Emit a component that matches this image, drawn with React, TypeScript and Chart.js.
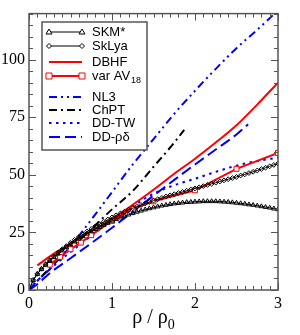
import { useEffect, useRef } from "react";
import { Chart, registerables } from "chart.js";
Chart.register(...registerables);

// ---------- data ----------
const xTicks = [0, 1, 2, 3];
const yTicks = [0, 25, 50, 75, 100];

const skyrmeRho = [
  0, 0.05, 0.1, 0.15, 0.2, 0.25, 0.3, 0.35, 0.4, 0.45, 0.5, 0.55, 0.6, 0.65, 0.7, 0.75, 0.8, 0.85, 0.9, 0.95,
  1.0, 1.05, 1.1, 1.15, 1.2, 1.25, 1.3, 1.35, 1.4, 1.45, 1.5, 1.55, 1.6, 1.65, 1.7, 1.75, 1.8, 1.85, 1.9, 1.95,
  2.0, 2.05, 2.1, 2.15, 2.2, 2.25, 2.3, 2.35, 2.4, 2.45, 2.5, 2.55, 2.6, 2.65, 2.7, 2.75, 2.8, 2.85, 2.9, 2.95, 3.0,
];
const skmStar = [
  0, 4.2, 6.9, 9.0, 10.9, 12.6, 14.2, 15.7, 17.1, 18.5, 19.8, 21.0, 22.2, 23.3, 24.4, 25.4, 26.4, 27.3, 28.2, 29.1,
  30.0, 30.7, 31.4, 32.1, 32.7, 33.3, 33.9, 34.4, 34.9, 35.4, 35.8, 36.2, 36.6, 36.9, 37.2, 37.5, 37.7, 37.9, 38.1, 38.2,
  38.3, 38.4, 38.5, 38.5, 38.5, 38.5, 38.4, 38.3, 38.2, 38.0, 37.8, 37.6, 37.4, 37.1, 36.9, 36.6, 36.3, 36.0, 35.7, 35.3, 35.0,
];
const skLya = [
  0, 4.3, 7.0, 9.2, 11.2, 13.0, 14.6, 16.2, 17.7, 19.1, 20.5, 21.8, 23.0, 24.2, 25.4, 26.5, 27.6, 28.6, 29.6, 30.6,
  31.5, 32.4, 33.2, 34.0, 34.8, 35.5, 36.2, 36.9, 37.6, 38.2, 38.8, 39.4, 40.0, 40.6, 41.1, 41.6, 42.1, 42.6, 43.1, 43.6,
  44.1, 44.6, 45.1, 45.6, 46.1, 46.6, 47.1, 47.6, 48.1, 48.6, 49.1, 49.7, 50.2, 50.8, 51.3, 51.9, 52.5, 53.1, 53.7, 54.3, 54.9,
];

const dbhfRho = [0.1, 0.2, 0.3, 0.4, 0.5, 0.6, 0.7, 0.8, 0.9, 1.0, 1.25, 1.5, 1.75, 2.0, 2.25, 2.5, 2.75, 3.0];
const dbhf = [10.7, 13.3, 15.8, 18.0, 20.2, 22.4, 24.6, 26.6, 28.6, 30.8, 37.0, 43.5, 50.5, 57.0, 64.0, 71.5, 80.5, 90.0];

const av18Rho = [0.25, 0.375, 0.5, 0.625, 0.75, 1.0, 1.25, 1.5, 2.0, 2.5, 3.0];
const av18 = [11.0, 14.4, 17.7, 20.6, 23.8, 30.0, 35.3, 38.5, 43.3, 52.6, 59.5];

const nl3Rho = [0, 0.1, 0.25, 0.5, 0.75, 1.0, 1.25, 1.5, 1.75, 2.0, 2.25, 2.5, 2.75, 2.96];
const nl3 = [0, 4, 9, 19, 30.5, 42.5, 54.5, 65.5, 76.5, 86.5, 96, 105, 113, 120];

const chptRho = [0, 0.25, 0.5, 0.75, 1.0, 1.25, 1.5, 1.75, 1.87];
const chpt = [0, 9.5, 18, 26.5, 35, 43, 53.5, 64, 69.5];

const ddtwRho = [0, 0.1, 0.25, 0.5, 0.75, 1.0, 1.25, 1.5, 1.75, 2.0, 2.25, 2.5, 2.75, 3.0];
const ddtw = [0, 4, 9, 16.5, 23.5, 30.5, 36.5, 41.8, 45.5, 48.3, 51.3, 54, 56, 57.5];

const ddrdRho = [0, 0.1, 0.25, 0.5, 0.75, 1.0, 1.25, 1.5, 1.75, 2.0, 2.25, 2.5, 2.64];
const ddrd = [0, 2.5, 7.3, 13.8, 20.3, 27, 34, 41, 47.8, 54.5, 61, 67.5, 72];

// ---------- styles ----------
const RED = "#ff0000";
const BLUE = "#0000ff";
const FRAME = "#555555";
const DASH_NL3 = [8, 4, 2, 4, 2, 4];
const DASH_CHPT = [8, 4, 2, 4];
const DASH_TW = [2.5, 4.5];
const DASH_RD = [11, 5];

const pts = (xs: number[], ys: number[]) => xs.map((x, i) => ({ x, y: ys[i] }));

type LegendItem = {
  label: string;
  sub?: string;
  color: string;
  width: number;
  dash: number[];
  marker?: "triangle" | "diamond" | "square";
};
const legendItems: LegendItem[] = [
  { label: "SKM*", color: "#000", width: 1, dash: [], marker: "triangle" },
  { label: "SkLya", color: "#000", width: 1, dash: [], marker: "diamond" },
  { label: "DBHF", color: RED, width: 2, dash: [] },
  { label: "var AV", sub: "18", color: RED, width: 2, dash: [], marker: "square" },
  { label: "NL3", color: BLUE, width: 2, dash: DASH_NL3 },
  { label: "ChPT", color: "#000", width: 2, dash: DASH_CHPT },
  { label: "DD-TW", color: BLUE, width: 2, dash: DASH_TW },
  { label: "DD-ρδ", color: BLUE, width: 2, dash: DASH_RD },
];
const legendRowY = [32, 46, 62, 76, 97, 110, 123, 137];

function drawMarker(ctx: CanvasRenderingContext2D, kind: string, x: number, y: number, color: string) {
  ctx.save();
  ctx.setLineDash([]);
  ctx.strokeStyle = color;
  ctx.lineWidth = 1;
  ctx.fillStyle = "#fff";
  ctx.beginPath();
  if (kind === "triangle") {
    ctx.moveTo(x, y - 3);
    ctx.lineTo(x + 3, y + 2);
    ctx.lineTo(x - 3, y + 2);
    ctx.closePath();
  } else if (kind === "diamond") {
    ctx.moveTo(x, y - 2.5);
    ctx.lineTo(x + 2.5, y);
    ctx.lineTo(x, y + 2.5);
    ctx.lineTo(x - 2.5, y);
    ctx.closePath();
  } else {
    ctx.rect(x - 3, y - 3, 6, 6);
  }
  ctx.fill();
  ctx.stroke();
  ctx.restore();
}

const framePlugin = {
  id: "frameTicksLegend",
  afterDraw(chart: any) {
    const ctx: CanvasRenderingContext2D = chart.ctx;
    const { left, right, top, bottom } = chart.chartArea;
    const xs = chart.scales.x;
    const ys = chart.scales.y;
    ctx.save();
    // ticks
    ctx.strokeStyle = FRAME;
    ctx.lineWidth = 1;
    ctx.setLineDash([]);
    ctx.beginPath();
    for (let i = 0; i <= 30; i++) {
      const px = Math.round(xs.getPixelForValue(i / 10)) + 0.5;
      const len = i % 10 === 0 ? 7 : 4;
      ctx.moveTo(px, bottom);
      ctx.lineTo(px, bottom - len);
      ctx.moveTo(px, top);
      ctx.lineTo(px, top + len);
    }
    for (let v = 0; v <= 120; v += 5) {
      const py = Math.round(ys.getPixelForValue(v)) + 0.5;
      const len = v % 25 === 0 ? 7 : 4;
      ctx.moveTo(left, py);
      ctx.lineTo(left + len, py);
      ctx.moveTo(right, py);
      ctx.lineTo(right - len, py);
    }
    ctx.stroke();
    // frame
    ctx.lineWidth = 1.5;
    ctx.strokeRect(left, top, right - left, bottom - top);

    // legend box
    const bx = 42, by = 22, bw = 105, bh = 128;
    ctx.fillStyle = "#fff";
    ctx.fillRect(bx, by, bw, bh);
    ctx.strokeStyle = FRAME;
    ctx.lineWidth = 1.5;
    ctx.strokeRect(bx, by, bw, bh);
    const x0 = 49, x1 = 82, tx = 92;
    legendItems.forEach((it, i) => {
      const y = legendRowY[i];
      ctx.save();
      ctx.strokeStyle = it.color;
      ctx.lineWidth = it.width;
      ctx.setLineDash(it.dash);
      ctx.beginPath();
      ctx.moveTo(x0, y);
      ctx.lineTo(x1, y);
      ctx.stroke();
      ctx.restore();
      if (it.marker) {
        drawMarker(ctx, it.marker, x0, y, it.color);
        drawMarker(ctx, it.marker, x1, y, it.color);
      }
      ctx.fillStyle = "#000";
      ctx.textBaseline = "middle";
      ctx.textAlign = "left";
      ctx.font = "13px 'Liberation Sans', Arial, sans-serif";
      ctx.fillText(it.label, tx, y);
      if (it.sub) {
        const w = ctx.measureText(it.label).width;
        ctx.font = "9px 'Liberation Sans', Arial, sans-serif";
        ctx.fillText(it.sub, tx + w + 1, y + 5);
      }
    });

    // x axis title: ρ / ρ0
    const cx = (left + right) / 2;
    ctx.fillStyle = "#000";
    ctx.textBaseline = "alphabetic";
    ctx.textAlign = "left";
    ctx.font = "20px 'Liberation Serif', 'Times New Roman', serif";
    const main = "ρ / ρ";
    const mw = ctx.measureText(main).width;
    ctx.font = "14px 'Liberation Serif', 'Times New Roman', serif";
    const sw = ctx.measureText("0").width;
    const sx = cx - (mw + sw) / 2;
    ctx.font = "20px 'Liberation Serif', 'Times New Roman', serif";
    ctx.fillText(main, sx, 323);
    ctx.font = "14px 'Liberation Serif', 'Times New Roman', serif";
    ctx.fillText("0", sx + mw, 329);
    ctx.restore();
  },
};

export default function App() {
  const ref = useRef<HTMLCanvasElement | null>(null);
  useEffect(() => {
    if (!ref.current) return;
    const tickFont = { family: "'Liberation Serif', 'Times New Roman', serif", size: 16 };
    const chart = new Chart(ref.current, {
      type: "line",
      data: {
        datasets: [
          {
            label: "SKM*",
            data: pts(skyrmeRho, skmStar),
            borderColor: "#000",
            borderWidth: 1,
            pointStyle: "triangle",
            pointRadius: 2.6,
            pointBorderWidth: 1,
            pointBorderColor: "#000",
            pointBackgroundColor: "rgba(255,255,255,0)",
            tension: 0,
          },
          {
            label: "SkLya",
            data: pts(skyrmeRho, skLya),
            borderColor: "#000",
            borderWidth: 1,
            pointStyle: "rectRot",
            pointRadius: 2.4,
            pointBorderWidth: 1,
            pointBorderColor: "#000",
            pointBackgroundColor: "rgba(255,255,255,0)",
            tension: 0,
          },
          {
            label: "DBHF",
            data: pts(dbhfRho, dbhf),
            borderColor: RED,
            borderWidth: 2,
            pointRadius: 0,
            cubicInterpolationMode: "monotone",
          },
          {
            label: "var AV18",
            data: pts(av18Rho, av18),
            borderColor: RED,
            borderWidth: 2,
            pointStyle: "rect",
            pointRadius: 3.5,
            pointBorderWidth: 1,
            pointBorderColor: RED,
            pointBackgroundColor: "#fff",
            tension: 0,
          },
          {
            label: "NL3",
            data: pts(nl3Rho, nl3),
            borderColor: BLUE,
            borderWidth: 2,
            borderDash: DASH_NL3,
            pointRadius: 0,
            cubicInterpolationMode: "monotone",
          },
          {
            label: "ChPT",
            data: pts(chptRho, chpt),
            borderColor: "#000",
            borderWidth: 2,
            borderDash: DASH_CHPT,
            pointRadius: 0,
            cubicInterpolationMode: "monotone",
          },
          {
            label: "DD-TW",
            data: pts(ddtwRho, ddtw),
            borderColor: BLUE,
            borderWidth: 2,
            borderDash: DASH_TW,
            pointRadius: 0,
            cubicInterpolationMode: "monotone",
          },
          {
            label: "DD-ρδ",
            data: pts(ddrdRho, ddrd),
            borderColor: BLUE,
            borderWidth: 2,
            borderDash: DASH_RD,
            pointRadius: 0,
            cubicInterpolationMode: "monotone",
          },
        ],
      },
      options: {
        responsive: false,
        animation: false,
        devicePixelRatio: 1,
        layout: { padding: { top: 9, right: 22, left: 0, bottom: 0 } },
        plugins: { legend: { display: false }, tooltip: { enabled: false } },
        elements: { line: { fill: false } },
        scales: {
          x: {
            type: "linear",
            min: 0,
            max: 3,
            grid: { display: false, drawTicks: false, tickLength: 0 },
            border: { display: false },
            ticks: { font: tickFont, color: "#000", padding: 4, maxRotation: 0 },
            afterBuildTicks: (s: any) => {
              s.ticks = xTicks.map((v) => ({ value: v }));
            },
            afterFit: (s: any) => {
              s.height = 45;
            },
          },
          y: {
            type: "linear",
            min: 0,
            max: 120,
            grid: { display: false, drawTicks: false, tickLength: 0 },
            border: { display: false },
            ticks: { font: tickFont, color: "#000", padding: 4 },
            afterBuildTicks: (s: any) => {
              s.ticks = yTicks.map((v) => ({ value: v }));
            },
            afterFit: (s: any) => {
              s.width = 29;
            },
          },
        },
      } as any,
      plugins: [framePlugin],
    });
    return () => chart.destroy();
  }, []);
  return (
    <div style={{ position: "fixed", left: 0, top: 0, width: 300, height: 335, background: "#fff" }}>
      <canvas ref={ref} width={300} height={335} />
    </div>
  );
}
